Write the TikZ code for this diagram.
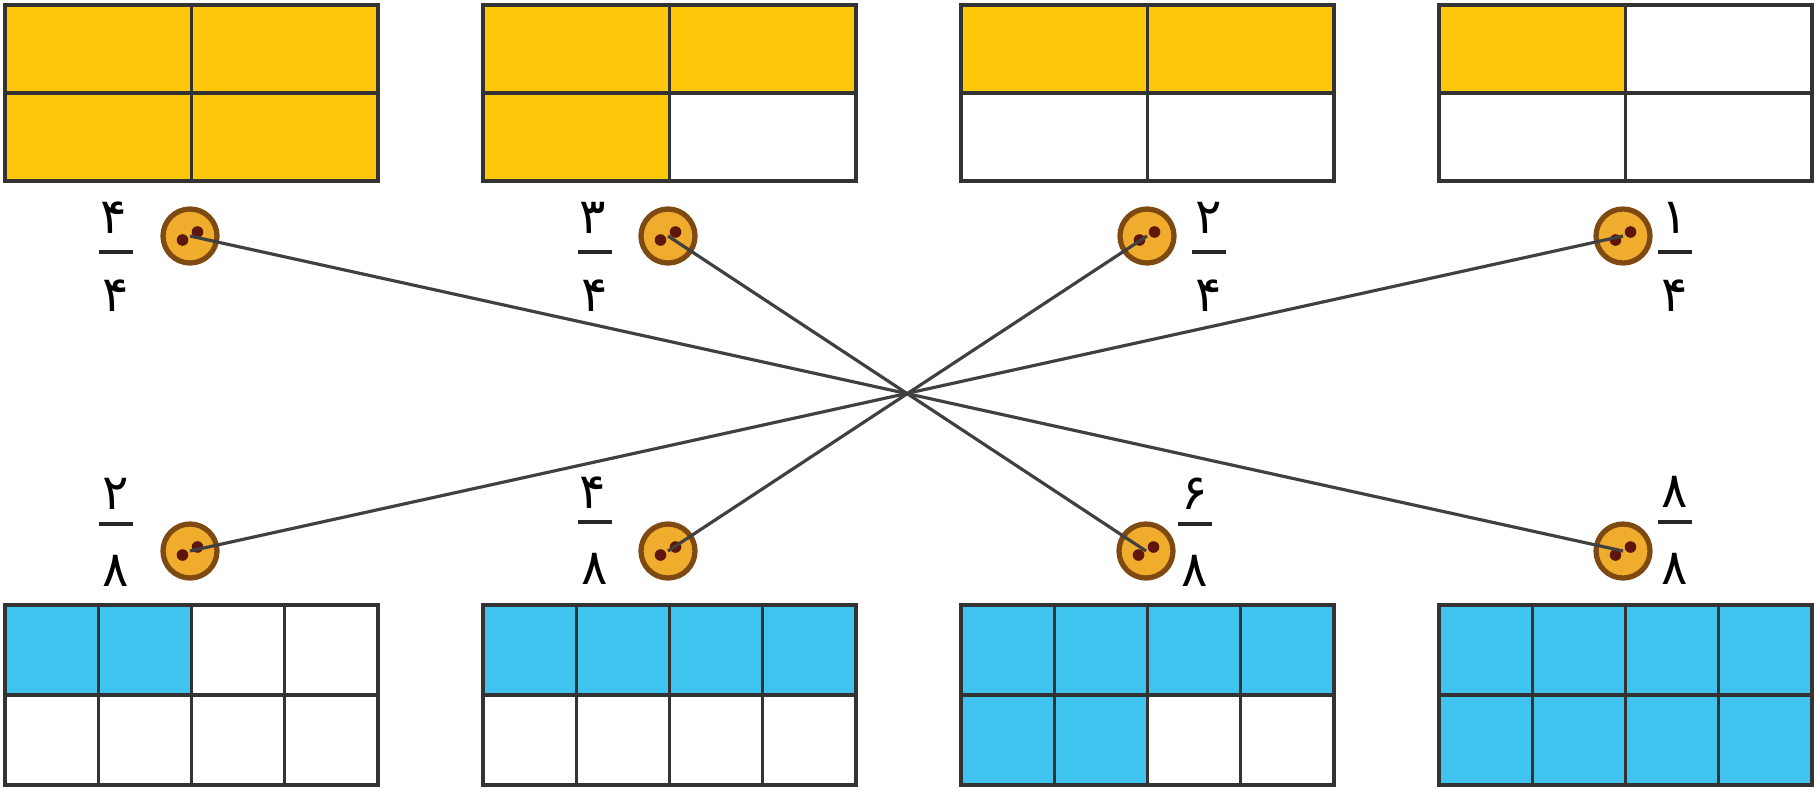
\documentclass[tikz,border=0pt]{standalone}
\usepackage{fontspec}
\newfontfamily\persianfont[Script=Arabic]{DejaVu Sans}
\definecolor{sunyellow}{HTML}{FFC709}
\definecolor{skyblue}{HTML}{3FC4F0}
\definecolor{buttonfill}{HTML}{F0AC2C}
\definecolor{buttonrim}{HTML}{7E4A12}
\definecolor{buttonhole}{HTML}{5E160A}
\tikzset{
  cell/.style={draw=black!80, line width=0.9pt},
  thread/.style={draw=black!75, line width=0.9pt},
  button/.style={circle, draw=buttonrim, line width=1.5pt, fill=buttonfill,
    minimum size=0.54cm, inner sep=0pt,
    path picture={
      \fill[buttonhole] ([shift={(-0.075,-0.04)}]path picture bounding box.center) circle (0.058);
      \fill[buttonhole] ([shift={(0.075,0.04)}]path picture bounding box.center) circle (0.058);}},
  digit/.style={font=\persianfont\fontsize{14}{16}\selectfont, inner sep=0pt},
  fracbar/.style={fill=black!85, minimum width=0.34cm, minimum height=1.1pt, inner sep=0pt}
}
\begin{document}
\begin{tikzpicture}
    \useasboundingbox (0,0) rectangle (18.19,7.93);

    % top rectangles (quarters)
    \fill[sunyellow] (0.05,6.12) rectangle ++(3.73,1.76);
    \fill[sunyellow] (4.83,7.00) rectangle ++(3.73,0.88);
    \fill[sunyellow] (4.83,6.12) rectangle ++(1.865,0.88);
    \fill[sunyellow] (9.61,7.00) rectangle ++(3.73,0.88);
    \fill[sunyellow] (14.39,7.00) rectangle ++(1.865,0.88);
    \foreach \x in {0.05,4.83,9.61,14.39} {
        \draw[cell] (\x,6.12) rectangle ++(3.73,1.76);
        \draw[cell] (\x+1.865,6.12) -- ++(0,1.76);
        \draw[cell] (\x,7.00) -- ++(3.73,0);
    }

    % bottom rectangles (eighths)
    \fill[skyblue] (0.05,0.98) rectangle ++(1.865,0.90);
    \fill[skyblue] (4.83,0.98) rectangle ++(3.73,0.90);
    \fill[skyblue] (9.61,0.98) rectangle ++(3.73,0.90);
    \fill[skyblue] (9.61,0.08) rectangle ++(1.865,0.90);
    \fill[skyblue] (14.39,0.08) rectangle ++(3.73,1.80);
    \foreach \x in {0.05,4.83,9.61,14.39} {
        \draw[cell] (\x,0.08) rectangle ++(3.73,1.80);
        \foreach \c in {1,2,3}
            \draw[cell] (\x+\c*0.9325,0.08) -- ++(0,1.80);
        \draw[cell] (\x,0.98) -- ++(3.73,0);
    }

    % fractions, top row
    \node[fracbar] (f44) at (1.16,5.41) {};
    \node[digit] (n44) at (1.14,5.75) {۴};
    \node[digit] (d44) at (1.16,4.97) {۴};
    \node[fracbar] (f34) at (5.95,5.41) {};
    \node[digit] (n34) at (5.93,5.75) {۳};
    \node[digit] (d34) at (5.95,4.97) {۴};
    \node[fracbar] (f24) at (12.09,5.41) {};
    \node[digit] (n24) at (12.09,5.75) {۲};
    \node[digit] (d24) at (12.09,4.97) {۴};
    \node[fracbar] (f14) at (16.75,5.41) {};
    \node[digit] (n14) at (16.75,5.75) {۱};
    \node[digit] (d14) at (16.75,4.97) {۴};

    % fractions, bottom row
    \node[fracbar] (f28) at (1.16,2.69) {};
    \node[digit] (n28) at (1.16,2.99) {۲};
    \node[digit] (d28) at (1.16,2.22) {۸};
    \node[fracbar] (f48) at (5.95,2.71) {};
    \node[digit] (n48) at (5.93,3.00) {۴};
    \node[digit] (d48) at (5.95,2.24) {۸};
    \node[fracbar] (f68) at (11.95,2.69) {};
    \node[digit] (n68) at (11.95,2.99) {۶};
    \node[digit] (d68) at (11.95,2.22) {۸};
    \node[fracbar] (f88) at (16.75,2.71) {};
    \node[digit] (n88) at (16.75,3.01) {۸};
    \node[digit] (d88) at (16.75,2.24) {۸};

    % buttons
    \node[button] (b44) at (1.90,5.57) {};
    \node[button] (b34) at (6.68,5.57) {};
    \node[button] (b24) at (11.47,5.57) {};
    \node[button] (b14) at (16.23,5.57) {};
    \node[button] (b28) at (1.90,2.42) {};
    \node[button] (b48) at (6.68,2.42) {};
    \node[button] (b68) at (11.46,2.42) {};
    \node[button] (b88) at (16.23,2.42) {};

    % matching threads
    \draw[thread] (b44.center) -- (b88.center);
    \draw[thread] (b34.center) -- (b68.center);
    \draw[thread] (b24.center) -- (b48.center);
    \draw[thread] (b14.center) -- (b28.center);

\end{tikzpicture}
\end{document}
